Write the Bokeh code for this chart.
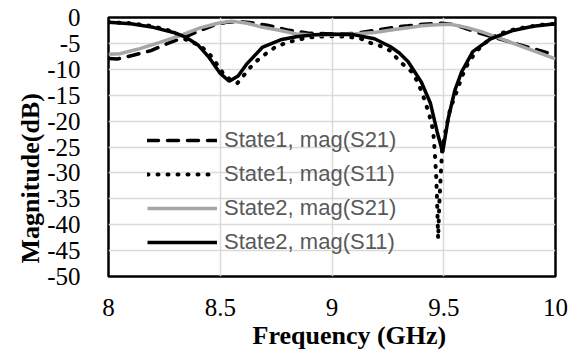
from bokeh.plotting import figure
from bokeh.models import FixedTicker, Legend, LegendItem, Title, Range1d
from bokeh.embed import file_html
from bokeh.resources import INLINE

# ---------------- data ----------------
x_ticks = [8, 8.5, 9, 9.5, 10]
x_tick_labels = ["8", "8.5", "9", "9.5", "10"]
y_ticks = [0, -5, -10, -15, -20, -25, -30, -35, -40, -45, -50]
y_tick_labels = ["0", "-5", "-10", "-15", "-20", "-25", "-30", "-35", "-40", "-45", "-50"]

x_title = "Frequency (GHz)"
y_title = "Magnitude(dB)"
series_names = ["State1, mag(S21)", "State1, mag(S11)", "State2, mag(S21)", "State2, mag(S11)"]

f_s1_s21 = [8.00, 8.04, 8.11, 8.19, 8.26, 8.34, 8.41, 8.47, 8.53, 8.58, 8.62, 8.71, 8.80, 8.89,
            9.00, 9.05, 9.11, 9.19, 9.29, 9.34, 9.41, 9.49, 9.55, 9.66, 9.74, 9.81, 9.90, 10.00]
s1_s21 = [-7.9, -8.0, -7.3, -6.4, -5.1, -3.8, -2.5, -1.5, -0.9, -0.8, -0.9, -1.5, -2.4, -3.0,
          -3.2, -3.2, -3.0, -2.5, -1.8, -1.6, -1.3, -1.1, -1.4, -3.0, -4.0, -4.9, -6.0, -7.3]

f_s1_s11 = [8.00, 8.10, 8.20, 8.28, 8.337, 8.41, 8.456, 8.483, 8.51, 8.545, 8.576, 8.605, 8.635,
            8.668, 8.707, 8.747, 8.80, 8.89, 8.94, 9.00, 9.07, 9.13, 9.165, 9.217, 9.26, 9.306,
            9.36, 9.387, 9.41, 9.432, 9.444, 9.453, 9.46, 9.466, 9.47, 9.475, 9.48, 9.487, 9.493,
            9.50, 9.515, 9.527, 9.545, 9.563, 9.58, 9.607, 9.642, 9.68, 9.717, 9.76, 9.806, 9.85,
            9.896, 9.95, 10.00]
s1_s11 = [-0.9, -1.1, -1.7, -2.6, -4.1, -5.4, -7.3, -8.9, -10.6, -12.0, -12.7, -11.2, -9.6,
          -8.2, -6.9, -5.7, -4.8, -3.9, -3.7, -3.6, -3.7, -4.1, -4.8, -5.5, -6.4, -8.6,
          -10.6, -12.8, -15.4, -18.3, -20.2, -22.1, -26.0, -30.5, -35.0, -42.7, -36.0, -30.0, -25.5,
          -23.7, -20.5, -18.0, -15.7, -13.8, -11.5, -9.0, -6.7, -5.1, -3.8, -3.0, -2.4, -2.0,
          -1.7, -1.35, -1.2]

f_s2_s21 = [8.00, 8.05, 8.14, 8.23, 8.32, 8.41, 8.49, 8.55, 8.62, 8.69, 8.77, 8.84, 8.92, 9.00,
            9.10, 9.19, 9.28, 9.34, 9.40, 9.47, 9.53, 9.60, 9.68, 9.75, 9.83, 9.90, 10.00]
s2_s21 = [-7.1, -7.0, -6.0, -4.8, -3.5, -2.0, -1.1, -0.7, -1.1, -1.9, -2.5, -3.2, -3.4, -3.4,
          -3.2, -2.9, -2.3, -2.0, -1.6, -1.4, -1.3, -1.9, -2.9, -4.0, -5.3, -6.4, -8.0]

f_s2_s11 = [8.00, 8.10, 8.20, 8.30, 8.35, 8.40, 8.45, 8.50, 8.54, 8.58, 8.62, 8.69, 8.77, 8.84,
            8.92, 9.00, 9.10, 9.19, 9.26, 9.30, 9.34, 9.40, 9.44, 9.47, 9.495, 9.52, 9.55, 9.58,
            9.63, 9.71, 9.81, 9.90, 10.00]
s2_s11 = [-0.9, -1.2, -1.9, -3.0, -3.9, -5.3, -7.7, -10.8, -12.3, -11.3, -8.9, -5.7, -4.3, -3.7,
          -3.35, -3.2, -3.35, -4.1, -5.6, -6.8, -8.5, -12.5, -16.5, -22.0, -26.0, -19.5, -14.0, -10.5,
          -6.6, -4.1, -2.5, -1.7, -1.2]

SERIF = "Liberation Serif"

# ---------------- figure ----------------
p = figure(width=578, height=353, output_backend="svg", toolbar_location=None, title=None,
           x_range=Range1d(8, 10), y_range=Range1d(-50, 0),
           min_border_left=108, min_border_right=23, min_border_top=17, min_border_bottom=77)
p.background_fill_color = "white"
p.border_fill_color = "white"
p.outline_line_color = "black"
p.outline_line_width = 2.5
p.outline_line_alpha = 1.0

r1 = p.line(f_s1_s21, s1_s21, line_color="black", line_width=3.5, line_dash="11 9", line_cap="round")
r2 = p.line(f_s1_s11, s1_s11, line_color="black", line_width=4, line_dash="1 9", line_cap="round")
r3 = p.line(f_s2_s21, s2_s21, line_color="#a6a6a6", line_width=3.5)
r4 = p.line(f_s2_s11, s2_s11, line_color="black", line_width=3.5)

for ax, ticks, labels, standoff in ((p.xaxis[0], x_ticks, x_tick_labels, 16),
                                    (p.yaxis[0], y_ticks, y_tick_labels, 22)):
    ax.ticker = FixedTicker(ticks=ticks)
    ax.major_label_overrides = {t: l for t, l in zip(ticks, labels)}
    ax.axis_line_color = None
    ax.major_tick_line_color = None
    ax.minor_tick_line_color = None
    ax.major_label_text_font = SERIF
    ax.major_label_text_font_size = "25px"
    ax.major_label_text_color = "black"
    ax.major_label_standoff = standoff

p.xgrid.ticker = FixedTicker(ticks=x_ticks)
p.ygrid.ticker = FixedTicker(ticks=y_ticks)
for g in (p.xgrid[0], p.ygrid[0]):
    g.grid_line_color = "#d9d9d9"
    g.grid_line_width = 1.5

# axis titles: left-aligned titles, shifted along the axis by `offset` px
p.add_layout(Title(text=x_title, align="left", offset=144, standoff=0,
                   text_font=SERIF, text_font_size="26px",
                   text_font_style="bold", text_color="black"), "below")
p.add_layout(Title(text=y_title, align="left", offset=13, standoff=0,
                   text_font=SERIF, text_font_size="26px",
                   text_font_style="bold", text_color="black"), "left")

legend = Legend(items=[LegendItem(label=n, renderers=[r]) for n, r in zip(series_names, [r1, r2, r3, r4])],
                location=(39, 21), padding=0, margin=0, border_line_color=None,
                background_fill_alpha=0, glyph_width=70, glyph_height=24, label_height=24,
                spacing=8, label_standoff=7, label_text_font="Liberation Sans",
                label_text_font_size="22px", label_text_color="#595959")
p.add_layout(legend)

open("out.html", "w").write(file_html(p, INLINE))
